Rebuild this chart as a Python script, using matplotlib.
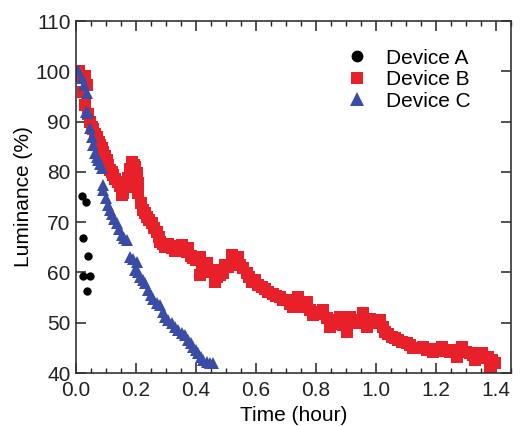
import matplotlib
matplotlib.use("Agg")
import matplotlib.pyplot as plt
from matplotlib.ticker import MultipleLocator

plt.rcParams['font.family'] = ['Liberation Sans', 'DejaVu Sans']

# Device A
a_time = [0.021, 0.032, 0.022, 0.041, 0.024, 0.047, 0.036]
a_lum = [75.2, 74.1, 66.9, 63.3, 59.3, 59.3, 56.3]

# Device B
b_time = [0.000, 0.011, 0.020, 0.030, 0.036, 0.024, 0.030, 0.040, 0.047, 0.052, 0.058,
          0.064, 0.069, 0.075, 0.080, 0.086, 0.091, 0.097, 0.102, 0.108, 0.113, 0.119,
          0.124, 0.130, 0.141, 0.147, 0.152, 0.158, 0.158, 0.165, 0.174, 0.180, 0.186,
          0.192, 0.197, 0.202, 0.208, 0.208, 0.216, 0.224, 0.230, 0.236, 0.244, 0.252,
          0.260, 0.269, 0.275, 0.280, 0.290, 0.297, 0.308, 0.319, 0.330, 0.340, 0.347,
          0.352, 0.360, 0.369, 0.374, 0.383, 0.391, 0.400, 0.413, 0.413, 0.420, 0.430,
          0.436, 0.447, 0.458, 0.463, 0.470, 0.480, 0.491, 0.497, 0.508, 0.519, 0.530,
          0.541, 0.547, 0.558, 0.569, 0.578, 0.586, 0.597, 0.608, 0.619, 0.630, 0.640,
          0.658, 0.668, 0.680, 0.691, 0.702, 0.713, 0.724, 0.736, 0.741, 0.750, 0.758,
          0.769, 0.780, 0.791, 0.800, 0.812, 0.824, 0.835, 0.847, 0.855, 0.863, 0.872,
          0.880, 0.891, 0.902, 0.913, 0.925, 0.936, 0.947, 0.958, 0.969, 0.980, 0.991,
          1.002, 1.013, 1.022, 1.030, 1.041, 1.052, 1.063, 1.074, 1.085, 1.102, 1.113,
          1.124, 1.140, 1.158, 1.170, 1.180, 1.191, 1.205, 1.219, 1.230, 1.247, 1.258,
          1.269, 1.286, 1.300, 1.313, 1.322, 1.330, 1.340, 1.352, 1.363, 1.374, 1.380,
          1.388, 1.397]
b_lum = [100.0, 100.0, 99.0, 99.0, 97.3, 95.9, 93.3, 91.6, 90.0, 89.0, 88.6,
         87.5, 87.0, 86.0, 85.3, 84.8, 84.0, 83.2, 82.3, 81.3, 80.4, 80.0,
         79.4, 78.6, 78.0, 77.2, 75.4, 77.7, 75.7, 77.0, 78.8, 80.5, 82.0,
         81.4, 81.0, 79.7, 77.7, 75.7, 73.8, 72.4, 71.8, 71.1, 70.4, 69.8,
         68.8, 68.1, 67.0, 66.1, 65.6, 65.1, 65.6, 64.8, 64.2, 65.2, 64.8,
         65.4, 64.4, 64.1, 64.8, 63.3, 62.8, 62.5, 63.1, 59.5, 61.0, 61.1,
         61.8, 60.1, 60.5, 58.1, 59.0, 59.5, 59.8, 61.5, 61.1, 63.5, 62.0,
         63.1, 61.5, 60.8, 59.8, 59.0, 58.1, 58.4, 57.5, 57.2, 56.8, 56.2,
         55.8, 55.3, 55.2, 54.5, 54.5, 53.8, 53.2, 54.5, 55.2, 53.9, 53.2,
         54.2, 52.6, 51.5, 52.2, 51.8, 52.5, 51.0, 49.2, 50.0, 50.5, 49.8,
         51.2, 49.6, 48.2, 51.2, 50.4, 49.9, 50.6, 51.9, 49.2, 50.8, 50.2,
         50.0, 50.5, 49.2, 48.2, 47.8, 47.2, 46.9, 46.6, 46.2, 45.9, 45.6,
         44.9, 45.0, 45.2, 44.6, 44.8, 44.2, 44.8, 45.2, 44.4, 44.2, 44.6,
         43.2, 45.2, 44.2, 43.9, 43.5, 42.6, 43.4, 43.9, 43.0, 43.2, 41.2,
         42.6, 41.9]

# Device C
c_time = [0.000, 0.008, 0.019, 0.027, 0.036, 0.033, 0.040, 0.047, 0.052, 0.058, 0.063,
          0.069, 0.074, 0.080, 0.086, 0.091, 0.091, 0.100, 0.108, 0.114, 0.119, 0.128,
          0.136, 0.144, 0.152, 0.160, 0.169, 0.180, 0.190, 0.197, 0.202, 0.208, 0.213,
          0.222, 0.230, 0.241, 0.250, 0.258, 0.270, 0.280, 0.290, 0.297, 0.308, 0.319,
          0.330, 0.341, 0.352, 0.363, 0.374, 0.383, 0.391, 0.400, 0.408, 0.416, 0.424,
          0.436, 0.447, 0.458]
c_lum = [100.1, 100.0, 98.6, 97.3, 95.6, 92.0, 91.7, 88.7, 87.0, 85.3, 83.7,
         83.0, 82.3, 81.5, 80.8, 77.4, 76.4, 74.8, 73.4, 72.4, 71.7, 70.7,
         69.8, 68.6, 67.4, 66.8, 66.4, 63.1, 62.6, 60.5, 62.1, 60.0, 59.1,
         58.4, 57.8, 56.5, 55.6, 54.8, 53.9, 53.5, 52.2, 51.2, 50.6, 49.9,
         49.2, 48.5, 48.0, 47.6, 46.6, 46.0, 45.2, 44.6, 43.9, 43.2, 42.6,
         42.2, 41.9, 41.9]

x_ticks = [0.0, 0.2, 0.4, 0.6, 0.8, 1.0, 1.2, 1.4]
y_ticks = [40, 50, 60, 70, 80, 90, 100, 110]

fig = plt.figure(figsize=(5.26, 4.26), dpi=100)
ax = fig.add_axes([0.1445, 0.1244, 0.827, 0.8263])

ax.plot(a_time, a_lum, 'o', color='black', markersize=6, markeredgewidth=0, label='Device A')
ax.plot(b_time, b_lum, 's', color='#E8202A', markersize=8, markeredgewidth=0, label='Device B')
ax.plot(c_time, c_lum, '^', color='#3A4DA6', markersize=8.5, markeredgewidth=0, label='Device C')

ax.set_xlim(0, 1.45)
ax.set_ylim(40, 110)
ax.set_xticks(x_ticks)
ax.set_xticklabels([f"{v:.1f}" for v in x_ticks])
ax.set_yticks(y_ticks)
ax.xaxis.set_minor_locator(MultipleLocator(0.05))

for s in ax.spines.values():
    s.set_linewidth(1.2)
    s.set_color('#333333')
ax.tick_params(which='major', direction='in', length=7, width=1.1, top=True, right=True,
               labelsize=15, colors='#222222')
ax.tick_params(axis='x', which='major', pad=6)
ax.tick_params(axis='y', which='major', pad=4)
ax.tick_params(which='minor', direction='in', length=3.5, width=1.0, top=True, right=True,
               colors='#222222')

ax.set_xlabel('Time (hour)', fontsize=15, labelpad=4)
ax.set_ylabel('Luminance (%)', fontsize=15, labelpad=2)

leg = ax.legend(loc='upper right', bbox_to_anchor=(0.95, 0.975), frameon=False, fontsize=15,
                handlelength=1.0, handletextpad=0.9, labelspacing=0.12)
for h, ms in zip(leg.legend_handles, [8.5, 8.5, 9.5]):
    h.set_markersize(ms)

fig.savefig('out.png', dpi=100)
